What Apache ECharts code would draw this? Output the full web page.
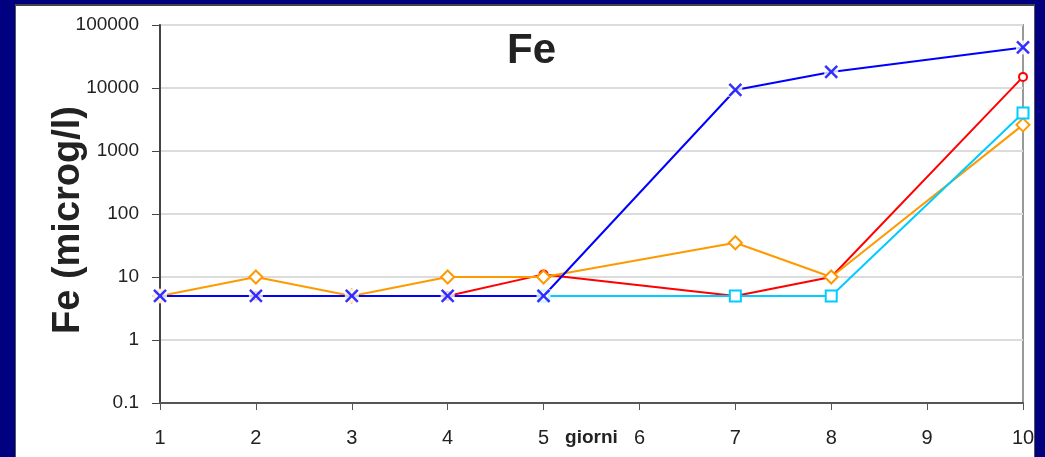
<!DOCTYPE html>
<html>
<head>
<meta charset="utf-8">
<script src="https://cdn.jsdelivr.net/npm/echarts@6/dist/echarts.min.js"></script>
<style>
  html, body { margin: 0; padding: 0; width: 1045px; height: 457px; background: #000080; overflow: hidden; }
  #panel { position: absolute; left: 15px; top: 4px; width: 1018px; height: 470px; background: #ffffff; border: 1px solid #555; border-top: 2px solid #444; }
  #chart { position: absolute; left: 0; top: 0; width: 1045px; height: 457px; }
</style>
</head>
<body>
<div id="panel"></div>
<div id="chart"></div>
<script>
// Data
const days = [1, 2, 3, 4, 5, 7, 8, 10];
const blueSeries = [5, 5, 5, 5, 5, 9300, 18000, 44000];
const redSeries = [5, 5, 5, 5, 11, 5, 10, 15000];
const orangeSeries = [5, 10, 5, 10, 10, 35, 10, 2600];
const cyanSeries = [null, null, null, null, 5, 5, 5, 4000];
const yTickLabels = ['0.1', '1', '10', '100', '1000', '10000', '100000'];
const xTickLabels = ['1', '2', '3', '4', '5', '6', '7', '8', '9', '10'];

function pairs(vals) {
  const out = [];
  for (let i = 0; i < days.length; i++) {
    if (vals[i] !== null) out.push([days[i], vals[i]]);
  }
  return out;
}

const FONT = '"Liberation Sans", Arial, sans-serif';
const chart = echarts.init(document.getElementById('chart'), null, { renderer: 'canvas' });

const xPath = 'path://M0,0 L10,10 M10,0 L0,10';

chart.setOption({
  backgroundColor: 'transparent',
  animation: false,
  title: {
    text: 'Fe',
    left: 502,
    top: 25,
    textStyle: { fontFamily: FONT, fontWeight: 'bold', fontSize: 42, color: '#222' }
  },
  grid: {
    left: 160, right: 22, top: 25, bottom: 54,
    containLabel: false, outerBoundsMode: 'none',
    show: true, borderColor: '#999', borderWidth: 2, backgroundColor: 'transparent'
  },
  xAxis: {
    type: 'value', min: 1, max: 10, interval: 1,
    name: 'giorni', nameLocation: 'middle', nameGap: 25, nameMoveOverlap: false,
    nameTextStyle: { fontFamily: FONT, fontWeight: 'bold', fontSize: 19, color: '#222' },
    axisLine: { show: true, lineStyle: { color: '#555', width: 2 } },
    axisTick: { show: true, length: 7, lineStyle: { color: '#555', width: 1 } },
    axisLabel: {
      margin: 25, fontFamily: FONT, fontSize: 20, color: '#222',
      formatter: function (v) { return xTickLabels[Math.round(v) - 1]; }
    },
    splitLine: { show: false }
  },
  yAxis: {
    type: 'log', logBase: 10, min: 0.1, max: 100000,
    name: 'Fe (microg/l)', nameLocation: 'middle', nameGap: 72, nameRotate: 90, nameMoveOverlap: false,
    nameTextStyle: { fontFamily: FONT, fontWeight: 'bold', fontSize: 38, color: '#222', padding: [0, 12, 0, 0] },
    axisLine: { show: true, lineStyle: { color: '#444', width: 2 } },
    axisTick: { show: true, length: 8, lineStyle: { color: '#444', width: 1 } },
    axisLabel: {
      margin: 21, fontFamily: FONT, fontSize: 19, color: '#222',
      formatter: function (v) {
        const idx = Math.round(Math.log10(v)) + 1;
        return yTickLabels[idx];
      }
    },
    splitLine: { show: true, lineStyle: { color: '#dcdcdc', width: 2 } }
  },
  series: [
    {
      name: 'red', type: 'line', data: pairs(redSeries), z: 3,
      lineStyle: { color: '#ff0000', width: 2 },
      symbol: 'emptyCircle', symbolSize: 8,
      itemStyle: { color: '#ff0000', borderWidth: 2 }
    },
    {
      name: 'orange', type: 'line', data: pairs(orangeSeries), z: 3,
      lineStyle: { color: '#ff9900', width: 2 },
      symbol: 'emptyDiamond', symbolSize: 13,
      itemStyle: { color: '#ff9900', borderWidth: 2 }
    },
    {
      name: 'cyan', type: 'line', data: pairs(cyanSeries), z: 3,
      lineStyle: { color: '#00ccff', width: 2 },
      symbol: 'emptyRect', symbolSize: 11,
      itemStyle: { color: '#00ccff', borderWidth: 2 }
    },
    {
      name: 'blue', type: 'line', data: pairs(blueSeries), z: 4,
      lineStyle: { color: '#0000ff', width: 2 },
      showSymbol: false, symbol: 'none'
    },
    {
      name: 'blueBg', type: 'scatter', data: pairs(blueSeries), z: 5,
      symbol: 'rect', symbolSize: 14,
      itemStyle: { color: '#ffffff' }
    },
    {
      name: 'blueMark', type: 'scatter', data: pairs(blueSeries), z: 6,
      symbol: xPath, symbolSize: 12,
      itemStyle: { color: '#0000ff', borderColor: '#0000ff', borderWidth: 2.5 }
    }
  ]
});
</script>
</body>
</html>
